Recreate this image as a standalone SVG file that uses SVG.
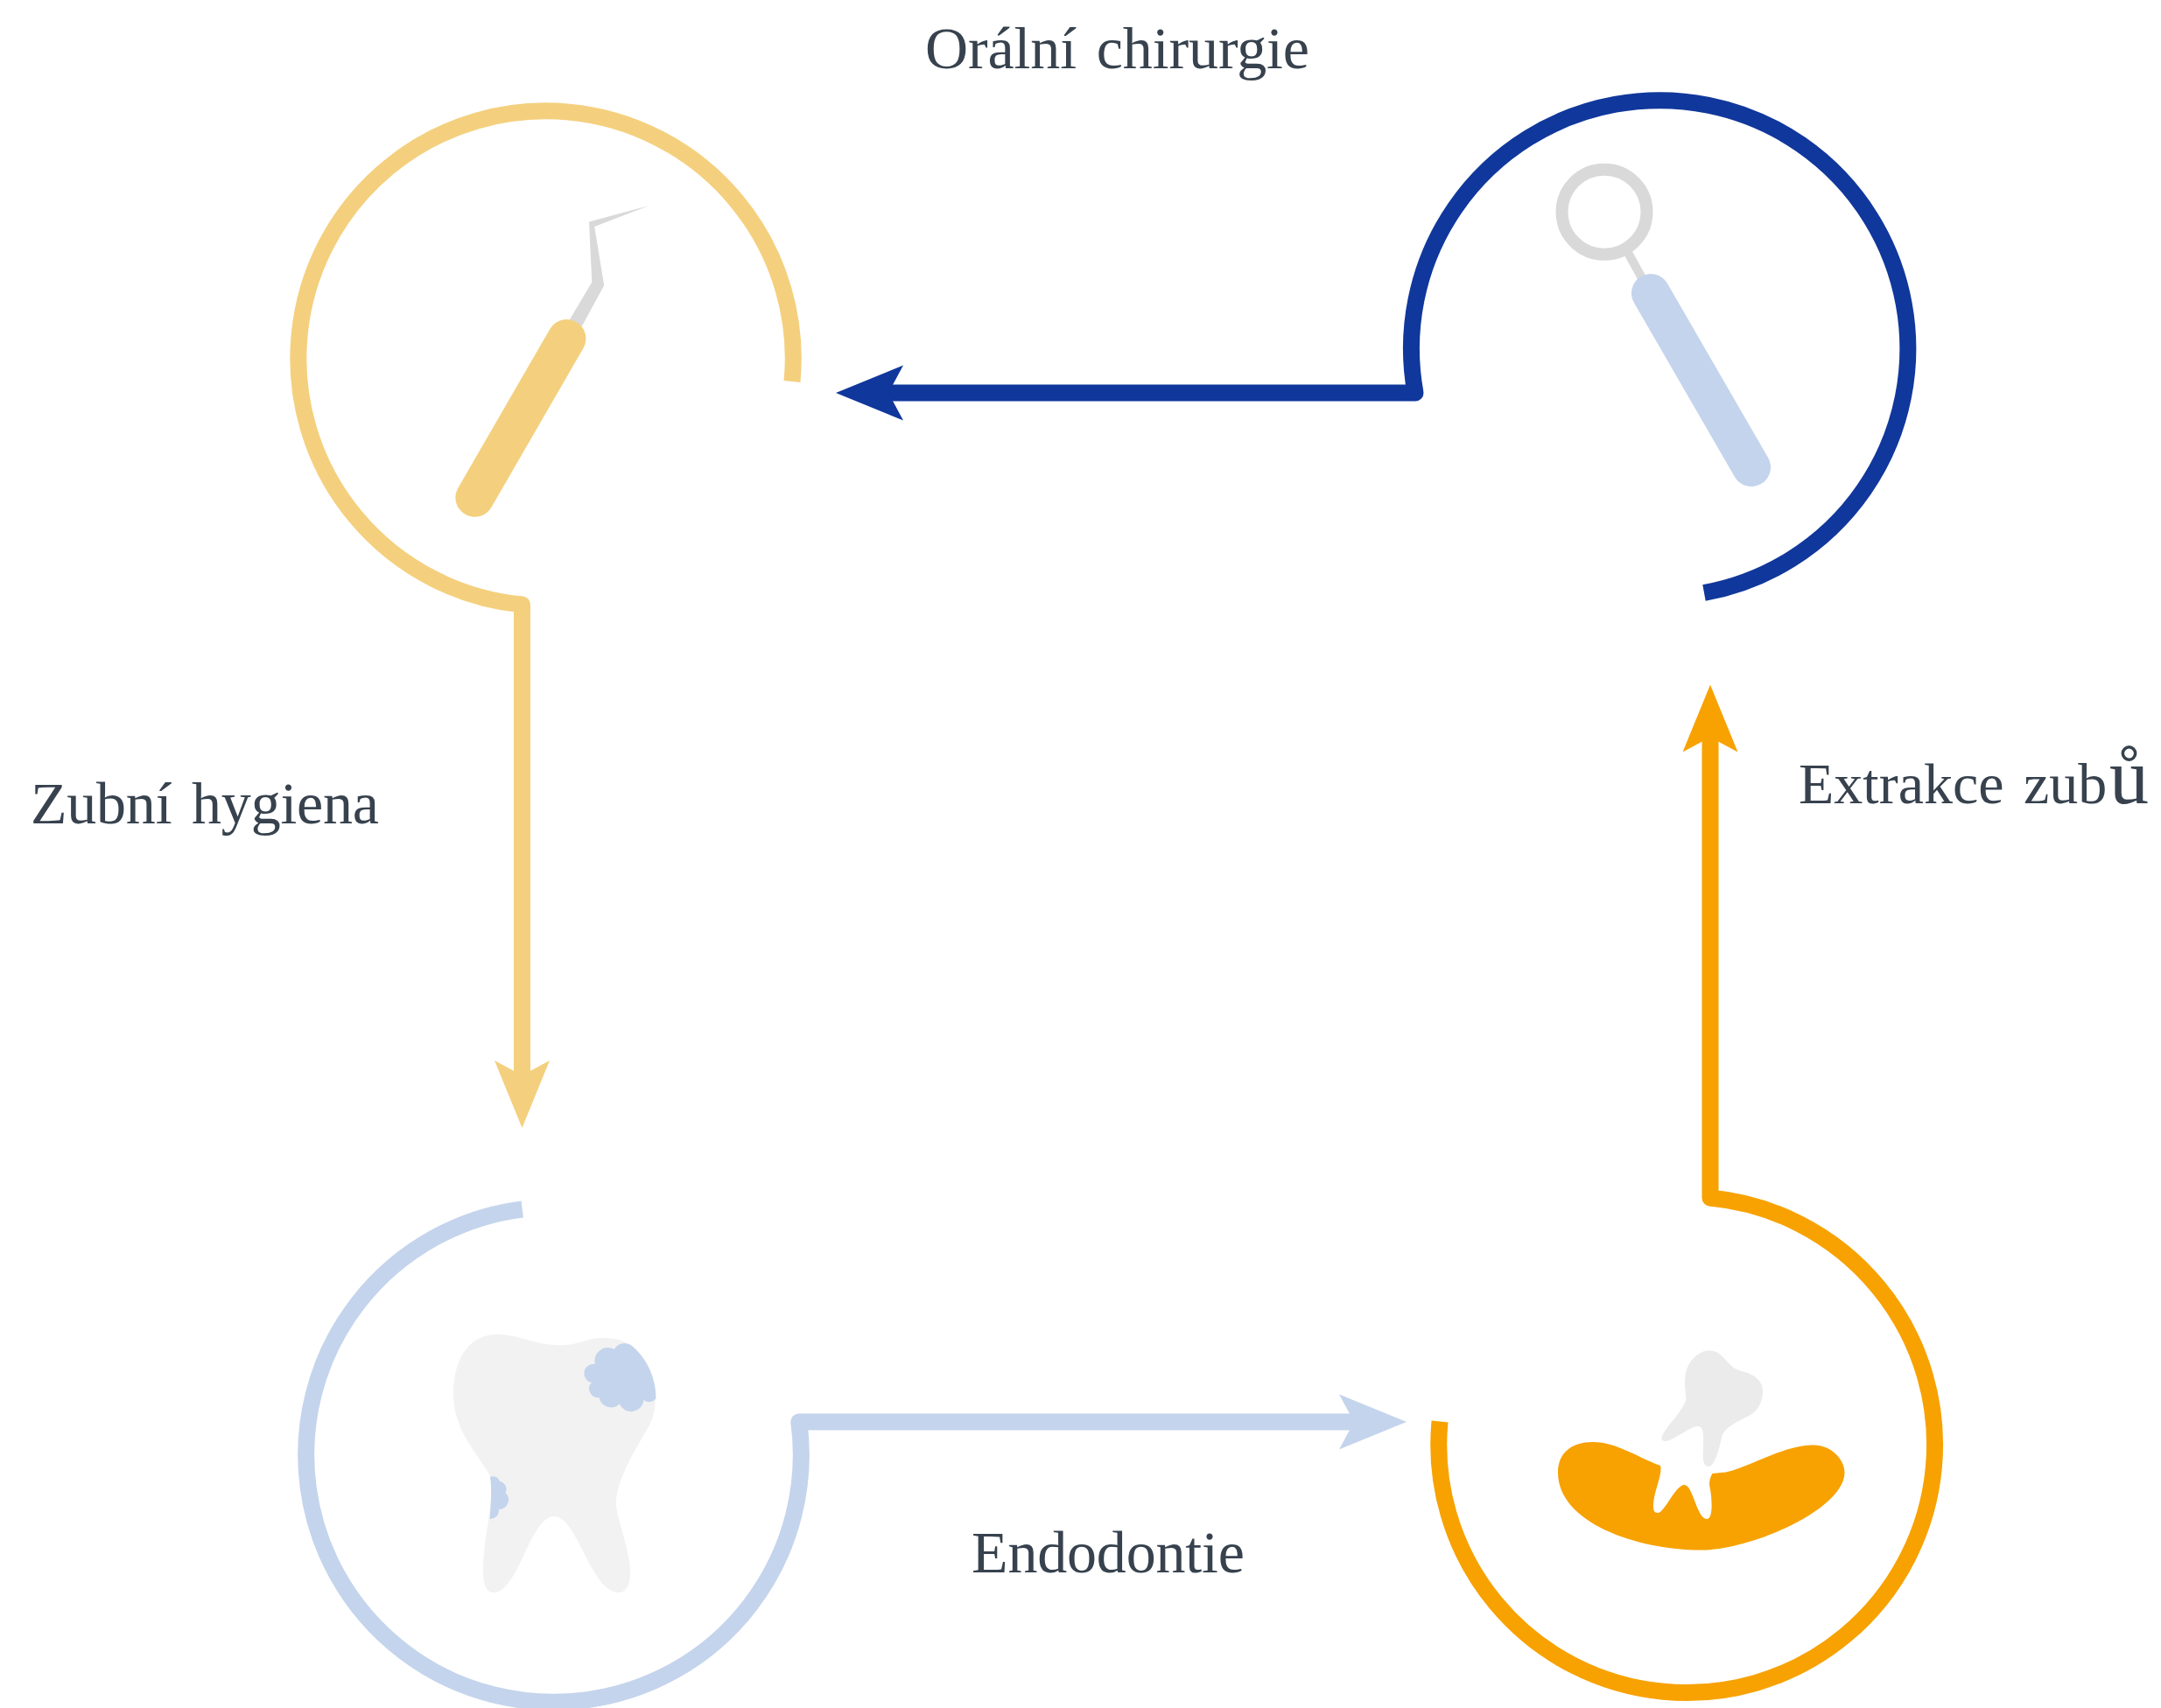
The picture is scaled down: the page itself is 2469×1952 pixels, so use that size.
<svg xmlns="http://www.w3.org/2000/svg" width="2469" height="1952" viewBox="0 0 2469 1952">
<defs>
<style>
.ring{fill:none;stroke-width:19;stroke-linecap:butt}
.conn{fill:none;stroke-width:19;stroke-linecap:round}
.lbl{font-family:"Liberation Serif","Times New Roman",serif;font-size:68px;fill:#37424E;word-spacing:6px}
.gold{stroke:#F4D07E}.navy{stroke:#10379B}.pale{stroke:#C4D4EC}.orange{stroke:#F7A200}
</style>
<marker id="ah-gold" markerUnits="userSpaceOnUse" viewBox="-17 -32 77 64" refX="0" refY="0" markerWidth="77" markerHeight="64" orient="auto"><path d="M-17,-31.5L60,0L-17,31.5L0,0Z" fill="#F4D07E"/></marker>
<marker id="ah-navy" markerUnits="userSpaceOnUse" viewBox="-17 -32 77 64" refX="0" refY="0" markerWidth="77" markerHeight="64" orient="auto"><path d="M-17,-31.5L60,0L-17,31.5L0,0Z" fill="#10379B"/></marker>
<marker id="ah-pale" markerUnits="userSpaceOnUse" viewBox="-17 -32 77 64" refX="0" refY="0" markerWidth="77" markerHeight="64" orient="auto"><path d="M-17,-31.5L60,0L-17,31.5L0,0Z" fill="#C4D4EC"/></marker>
<marker id="ah-orange" markerUnits="userSpaceOnUse" viewBox="-17 -32 77 64" refX="0" refY="0" markerWidth="77" markerHeight="64" orient="auto"><path d="M-17,-31.5L60,0L-17,31.5L0,0Z" fill="#F7A200"/></marker>
</defs>
<rect width="2469" height="1952" fill="#FFFFFF"/>
<g id="connectors">
<path class="conn gold" d="M596.5,691V1229" marker-end="url(#ah-gold)"/>
<path class="conn navy" d="M1617,449H1015" marker-end="url(#ah-navy)"/>
<path class="conn pale" d="M912.8,1625H1547" marker-end="url(#ah-pale)"/>
<path class="conn orange" d="M1954,1369V842.6" marker-end="url(#ah-orange)"/>
</g>
<g id="node-hygiene">
<path class="ring gold" d="M905,436A282.7,282.7 0 1 0 596.5,691"/>
<path fill="#D9D9D9" d="M741.5,235L673,253.4L676.3,322.6L650.6,365.7L664.9,372.8L690.2,326.2L679.2,259Z"/>
<line x1="647.4" y1="387" x2="542.4" y2="568.7" stroke="#F4D07E" stroke-width="44" stroke-linecap="round"/>
<text class="lbl" x="35" y="941" textLength="398">Zubní hygiena</text>
</g>
<g id="node-endodontics">
<path class="ring pale" d="M596.7,1382A282.8,282.8 0 1 0 912.8,1625"/>
<path fill="#F2F2F2" d="M518,1594C518,1565 528,1525 569,1525C595,1525 615,1540 648,1537C662,1536 672,1529 691,1529C730,1529 749,1565 749,1594C749,1615 745,1625 736,1639C720,1667 704,1695 704,1718C704,1735 720,1770 720,1798C720,1812 715,1820 707,1820C675,1820 660,1733 633,1733C606,1733 592,1820 564,1820C555,1820 552,1810 552,1794C552,1760 562,1730 561,1700C561,1690 560,1686 556,1680C540,1655 518,1630 518,1594Z"/>
<path fill="#C4D4EC" d="M680,1559A15,15 0 0 1 701.6,1542A14,14 0 0 1 722,1538C738,1552 750,1575 749.4,1598.6A10,10 0 0 1 735.5,1600A14.5,14.5 0 0 1 707.8,1604.6A14,14 0 0 1 684.5,1597A10,10 0 0 1 676,1580A9.5,9.5 0 0 1 680,1559Z"/>
<path fill="#C4D4EC" d="M560,1688A8,8 0 0 1 571,1693A9,9 0 0 1 577.5,1706A11,11 0 0 1 570,1725A10,10 0 0 1 559.5,1736C561,1720 562,1700 560,1688Z"/>
<text class="lbl" x="1110" y="1797" textLength="312">Endodontie</text>
</g>
<g id="node-extraction">
<path class="ring orange" d="M1954,1369A283.4,283.4 0 1 1 1645,1624.5"/>
<path fill="#F7A200" d="M1780,1683C1780,1660 1796,1648 1820,1648C1846,1648 1868,1664 1897,1675C1900,1685 1889,1705 1889,1721C1889,1726 1890,1729 1894,1729C1902,1729 1914,1697 1924.5,1697C1934,1697 1939,1736 1950,1736C1958,1736 1956,1710 1953,1697C1953,1692 1954,1688 1956.5,1684L1972,1682.5C1995,1678 2040,1651 2071,1651.5C2092,1651 2107.5,1668 2107.5,1683C2107.5,1725 2000,1771.5 1944,1771.5C1870,1771.5 1780,1740 1780,1683Z"/>
<path fill="#EBEBEB" d="M1953,1543.5C1961,1543.5 1966,1548 1970,1552.5C1976,1559 1981,1564.5 1988,1566.5C2003,1570 2014,1577 2014,1590C2014,1603 2008,1612 2000,1617C1985,1625 1970,1631 1967,1643C1964,1657 1959,1676 1952,1676C1946,1676 1945,1668 1946,1655C1946.5,1642 1947,1630 1940,1630C1930,1630 1912,1647 1903,1647C1895,1647 1899,1639 1906,1630C1914,1620 1926,1606 1926.5,1598C1925,1585 1922,1565 1935,1552C1941,1546 1947,1543.5 1953,1543.5Z"/>
<text class="lbl" style="font-size:66px" x="2055" y="918">Extrakce zub<tspan x="2410" font-size="90" style="font-size:90px">ů</tspan></text>
</g>
<g id="node-surgery">
<path class="ring navy" d="M1617,449A283.7,283.7 0 1 1 1947,677.5"/>
<circle cx="1833" cy="242.2" r="48.5" fill="none" stroke="#D9D9D9" stroke-width="14"/>
<line x1="1859" y1="287" x2="1880" y2="325" stroke="#D9D9D9" stroke-width="10"/>
<line x1="1886" y1="335" x2="2001" y2="534" stroke="#C4D4EC" stroke-width="44" stroke-linecap="round"/>
<text class="lbl" x="1057" y="77.5" textLength="439">Orální chirurgie</text>
</g>
</svg>
